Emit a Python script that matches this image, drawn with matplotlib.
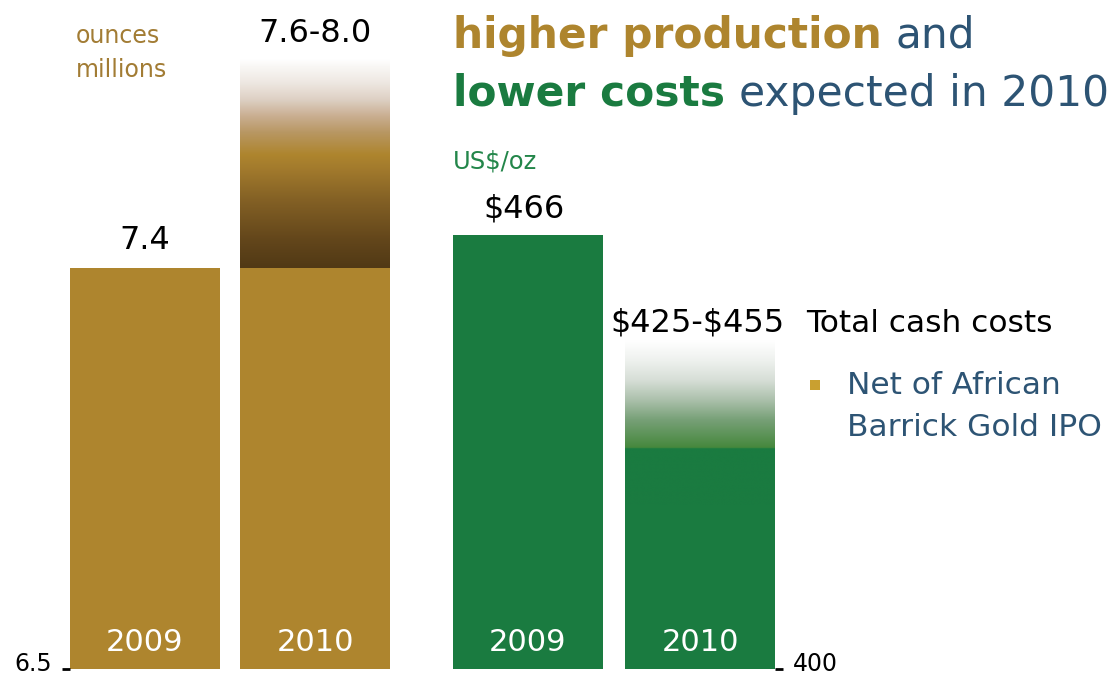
import numpy as np
import matplotlib
matplotlib.use("Agg")
import matplotlib.pyplot as plt
from matplotlib.colors import LinearSegmentedColormap
from matplotlib.patches import Rectangle
from matplotlib.transforms import ScaledTranslation

# production, million ounces
years = ["2009", "2010"]
production = [7.4, 7.4]
production_range = [7.6, 8.0]
production_base = 6.5

# total cash costs, US$/oz
cash_costs = [466, 425]
cost_range = [425, 455]
cost_base = 400

GOLD = "#AE852E"
GREEN = "#1A7B40"
SLATE = "#2D5474"

W, H = 1115, 677
fig = plt.figure(figsize=(W / 100, H / 100), dpi=100)
fig.patch.set_facecolor("white")


def px(x, y):
    return x / W, 1 - y / H


# fade colours for the guidance ranges (bottom -> top)
gold_fade = LinearSegmentedColormap.from_list("gold_fade", [
    (0.0, "#513915"), (0.105, "#63461B"), (0.255, "#846125"),
    (0.378, "#A47C2D"), (0.423, "#AE852E"), (0.506, "#B89763"),
    (0.566, "#C9AE90"), (0.629, "#DDD0C4"), (0.693, "#EEE8E2"),
    (0.753, "#F9F7F5"), (0.78, "#FFFFFF"), (1.0, "#FFFFFF")])
green_fade = LinearSegmentedColormap.from_list("green_fade", [
    (0.0, GREEN), (0.284, GREEN), (0.29, "#46883D"), (0.43, "#77A077"),
    (0.53, "#ABC0AB"), (0.63, "#D6DED6"), (0.73, "#EEF1EE"),
    (0.83, "#FFFFFF"), (1.0, "#FFFFFF")])


def fade_bar(ax, x, width, y0, y1, cmap):
    img = cmap(np.linspace(0, 1, 256))[:, None, :]
    ax.imshow(img, extent=(x - width / 2, x + width / 2, y0, y1),
              origin="lower", aspect="auto", interpolation="bilinear", zorder=2)


# nudge the baseline tick label up so it stays inside the figure
lift = ScaledTranslation(0, 5 / 100, fig.dpi_scale_trans)


def style_axis(ax):
    for s in ax.spines.values():
        s.set_visible(False)
    ax.set_xticks([])
    ax.tick_params(axis="y", length=5.8, width=2, pad=7, labelsize=17)
    for lbl in ax.get_yticklabels():
        lbl.set_verticalalignment("center")
        lbl.set_transform(lbl.get_transform() + lift)


# left panel: production
ax1 = fig.add_axes([70 / W, (H - 669) / H, 320 / W, 669 / H])
w1 = 0.882
x1 = np.arange(len(years))
ax1.bar(x1, np.array(production) - production_base, bottom=production_base,
        width=w1, color=GOLD, zorder=1)
fade_bar(ax1, x1[1], w1, production[1], production_range[1], gold_fade)
ax1.set_xlim(-0.441, 1.441)
ax1.set_ylim(production_base, 8.0)
ax1.set_yticks([production_base])
ax1.set_yticklabels([f"{production_base:.1f}"])
style_axis(ax1)

ax1.annotate(f"{production[0]:.1f}", (x1[0], production[0]), xytext=(0, 27),
             textcoords="offset pixels", ha="center", va="center", fontsize=23)
ax1.annotate(f"{production_range[0]:.1f}-{production_range[1]:.1f}",
             (x1[1], production_range[1]), xytext=(0, -34),
             textcoords="offset pixels", ha="center", va="center", fontsize=23)

# right panel: cash costs
ax2 = fig.add_axes([453 / W, (H - 669) / H, 322 / W, 669 / H])
w2 = 0.872
x2 = np.arange(len(years))
ax2.bar(x2, np.array(cash_costs) - cost_base, bottom=cost_base,
        width=w2, color=GREEN, zorder=1)
fade_bar(ax2, x2[1], w2, cash_costs[1], cost_range[1], green_fade)
ax2.set_xlim(-0.436, 1.436)
ax2.set_ylim(cost_base, 501.7)
ax2.yaxis.tick_right()
ax2.set_yticks([cost_base])
ax2.set_yticklabels([str(cost_base)])
style_axis(ax2)

ax2.annotate(rf"\${cash_costs[0]}", (x2[0], cash_costs[0]), xytext=(-4, 26),
             textcoords="offset pixels", ha="center", va="center", fontsize=23)
ax2.annotate(rf"\${cost_range[0]}-\${cost_range[1]}", (x2[1], cost_range[1]),
             xytext=(-3, -16), textcoords="offset pixels",
             ha="center", va="center", fontsize=23)

# year labels inside the bars
for ax, xs in ((ax1, x1), (ax2, x2)):
    for x, yr in zip(xs, years):
        ax.text(x, 0.04, yr, transform=ax.get_xaxis_transform(),
                ha="center", va="center", color="white", fontsize=22, zorder=3)

# unit captions
fig.text(*px(76, 36), "ounces", color="#A27C34", fontsize=17, va="center")
fig.text(*px(76, 70), "millions", color="#A27C34", fontsize=17, va="center")
fig.text(*px(453, 161), r"US\$/oz", color="#23864A", fontsize=17.5, va="center")

# headline, two colours per line
renderer = fig.canvas.get_renderer()


def headline(x, y, parts, size=30.5):
    x = x / W
    for txt, color, weight in parts:
        t = fig.text(x, 1 - y / H, txt, color=color, fontweight=weight,
                     fontsize=size, va="baseline", ha="left")
        bb = t.get_window_extent(renderer)
        x = (bb.x1 + 14) / W


headline(453, 48, [("higher production", GOLD, "bold"), ("and", SLATE, "normal")])
headline(453, 106, [("lower costs", GREEN, "bold"), ("expected in 2010", SLATE, "normal")])

# side note
fig.text(*px(806, 323), "Total cash costs", color="black", fontsize=22.5, va="center")
fig.add_artist(Rectangle(px(810, 390), 10 / W, 10 / H, transform=fig.transFigure,
                         facecolor="#C9A030", edgecolor="none"))
fig.text(*px(847, 386), "Net of African", color=SLATE, fontsize=22.5, va="center")
fig.text(*px(847, 428), "Barrick Gold IPO", color=SLATE, fontsize=22.5, va="center")

fig.savefig("out.png", dpi=100, facecolor="white")
